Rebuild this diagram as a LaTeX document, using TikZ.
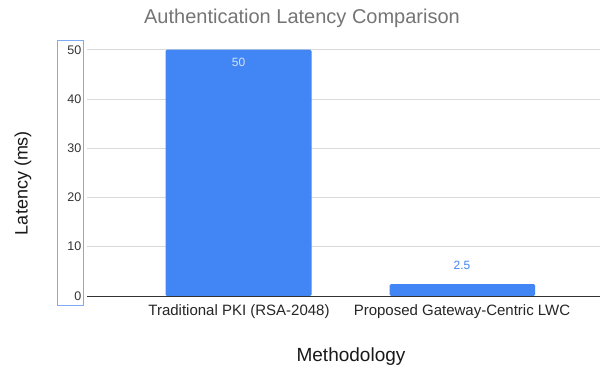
\documentclass[tikz,border=0pt]{standalone}
\usepackage{fontspec}
\setmainfont{Liberation Sans}
\definecolor{barblue}{HTML}{4285F4}
\definecolor{gridgray}{HTML}{D9D9D9}
\definecolor{titlegray}{HTML}{757575}
\definecolor{axisdark}{HTML}{333333}
\definecolor{boxblue}{HTML}{7FAAF6}
\definecolor{lightlabel}{HTML}{D2E3FC}
\begin{document}
\begin{tikzpicture}[x=1pt,y=-1pt,
  bar/.style={fill=barblue,draw=none,rounded corners=1.5pt},
  gridline/.style={draw=gridgray,line width=0.8pt},
  ticklabel/.style={anchor=east,font=\fontsize{12.5}{14}\selectfont,text=axisdark,inner sep=0pt},
  catlabel/.style={anchor=center,font=\fontsize{15}{17}\selectfont,text=black!85,inner sep=0pt},
  axistitle/.style={font=\fontsize{19}{22}\selectfont,text=black!90,inner sep=0pt},
  valuelabel/.style={font=\fontsize{12}{14}\selectfont,inner sep=0pt}]
\useasboundingbox (0,0) rectangle (603,369);
\fill[white] (0,0) rectangle (603,369);
% horizontal grid lines at 10 ms steps (0 ms is the axis)
\foreach \v in {10,20,30,40,50}{
  \draw[gridline] (87,{295.9-\v*4.924}) -- (600,{295.9-\v*4.924});
  \node[ticklabel] at (81.5,{295.9-\v*4.924}) {\v};
}
\node[ticklabel] (t0) at (81.5,295.9) {0};
% bars
\coordinate (b1sw) at (165.5,296);
\coordinate (b1ne) at (311.5,49.7);
\coordinate (b2sw) at (389.5,296);
\coordinate (b2ne) at (535,284);
\fill[bar] (b1sw) rectangle (b1ne);
\fill[bar] (b2sw) rectangle (b2ne);
% axis line
\coordinate (ax0) at (87,296);
\coordinate (ax1) at (600,296);
\draw[axisdark,line width=0.9pt] (ax0) -- (ax1);
% selection frame around the tick labels
\node[draw=boxblue,line width=1pt,minimum width=26pt,minimum height=264pt,inner sep=0pt] (frame) at (70,173) {};
% value labels
\node[valuelabel,text=lightlabel] (v1) at (238.5,62) {50};
\node[valuelabel,text=barblue] (v2) at (462,265.5) {2.5};
% category labels
\node[catlabel] (c1) at (239,311.5) {Traditional PKI (RSA-2048)};
\node[catlabel] (c2) at (462,311.5) {Proposed Gateway-Centric LWC};
% titles
\node[font=\fontsize{20}{24}\selectfont,text=titlegray,inner sep=0pt] (title) at (302,18) {Authentication Latency Comparison};
\node[axistitle] (xt) at (351,357) {Methodology};
\node[font=\fontsize{18}{21}\selectfont,text=black!90,inner sep=0pt,rotate=90] (yt) at (23,183) {Latency (ms)};
\end{tikzpicture}
\end{document}
